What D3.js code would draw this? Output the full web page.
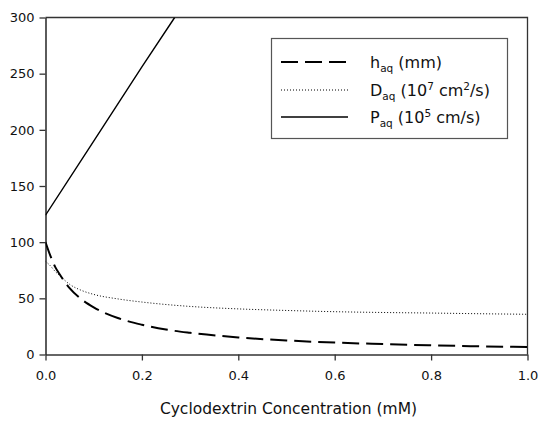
<!DOCTYPE html>
<html>
<head>
<meta charset="utf-8">
<script src="https://cdn.jsdelivr.net/npm/d3@7"></script>
<style>
  html, body { margin: 0; padding: 0; background: #fff; }
  svg { display: block; font-family: "DejaVu Sans", Verdana, sans-serif; }
</style>
</head>
<body>
<svg id="chart" width="541" height="422"></svg>
<script>
// Cyclodextrin concentration (mM)
const concH = [0, 0.01, 0.02, 0.03, 0.05, 0.075, 0.1, 0.15, 0.2, 0.25, 0.3, 0.4, 0.5, 0.6, 0.7, 0.8, 0.9, 1.0];
// Aqueous boundary layer thickness h_aq (mm)
const hAq = [100, 88, 78, 71, 59, 49, 42, 32.5, 26.5, 22.2, 19.3, 15.2, 12.5, 10.6, 9.3, 8.2, 7.3, 6.6];
// Aqueous diffusivity D_aq (10^7 cm^2/s)
const dAq = [83, 79, 74, 70, 62.5, 57, 53.5, 49.5, 46.7, 44.5, 42.8, 40.6, 39.2, 38.1, 37.4, 36.9, 36.3, 35.8];
// Aqueous permeability P_aq (10^5 cm/s)
const concP = [0, 0.1, 0.2, 0.268];
const pAq = [124, 190, 256, 300];

const xTicks = [0, 0.2, 0.4, 0.6, 0.8, 1.0];
const yTicks = [0, 50, 100, 150, 200, 250, 300];
const xTitle = "Cyclodextrin Concentration (mM)";

const svg = d3.select("#chart");
const m = { left: 45.5, right: 527.5, top: 17.5, bottom: 354.5 };

const x = d3.scaleLinear().domain([0, 1]).range([m.left, m.right]);
const y = d3.scaleLinear().domain([0, 300]).range([m.bottom, m.top]);

const axisColor = "#333";

// frame (top and right borders)
svg.append("path")
  .attr("d", `M${m.left},${m.top}H${m.right}V${m.bottom}`)
  .attr("fill", "none").attr("stroke", axisColor).attr("stroke-width", 1.3);

const xAxis = svg.append("g")
  .attr("transform", `translate(0,${m.bottom})`)
  .call(d3.axisBottom(x).tickValues(xTicks).tickFormat(d3.format(".1f")).tickSize(6).tickSizeOuter(0));
const yAxis = svg.append("g")
  .attr("transform", `translate(${m.left},0)`)
  .call(d3.axisLeft(y).tickValues(yTicks).tickFormat(d3.format("d")).tickSize(6).tickSizeOuter(0));

[xAxis, yAxis].forEach(g => {
  g.select(".domain").attr("stroke", axisColor).attr("stroke-width", 1.6);
  g.selectAll(".tick line").attr("stroke", axisColor).attr("stroke-width", 1.3);
  g.selectAll(".tick text").attr("fill", "#111").style("font-size", "13px")
    .style("font-family", "'DejaVu Sans', Verdana, sans-serif");
});
xAxis.selectAll(".tick text").attr("dy", "0.71em").attr("y", 16);
yAxis.selectAll(".tick text").attr("x", -11);

// axis title
svg.append("text")
  .attr("x", (m.left + m.right) / 2 + 2).attr("y", 414)
  .attr("text-anchor", "middle")
  .style("font-size", "15.5px").attr("fill", "#111")
  .text(xTitle);

// series
const clipId = "plotClip";
svg.append("clipPath").attr("id", clipId)
  .append("rect").attr("x", m.left).attr("y", m.top).attr("width", m.right - m.left).attr("height", m.bottom - m.top);

const line = d3.line().x(d => x(d[0])).y(d => y(d[1])).curve(d3.curveMonotoneX);
const plot = svg.append("g").attr("clip-path", `url(#${clipId})`);

const styles = {
  h: { dash: "17,7", width: 2 },
  d: { dash: "1,2", width: 1 },
  p: { dash: null, width: 1.4 }
};

plot.append("path")
  .attr("d", line(d3.zip(concH, dAq)))
  .attr("fill", "none").attr("stroke", "#000")
  .attr("stroke-width", styles.d.width).attr("stroke-dasharray", styles.d.dash);
plot.append("path")
  .attr("d", line(d3.zip(concH, hAq)))
  .attr("fill", "none").attr("stroke", "#000")
  .attr("stroke-width", styles.h.width).attr("stroke-dasharray", styles.h.dash);
plot.append("path")
  .attr("d", d3.line().x(d => x(d[0])).y(d => y(d[1]))(d3.zip(concP, pAq)))
  .attr("fill", "none").attr("stroke", "#000")
  .attr("stroke-width", styles.p.width);

// legend
const lg = svg.append("g");
lg.append("rect")
  .attr("x", 271.5).attr("y", 38.5).attr("width", 236).attr("height", 100)
  .attr("fill", "#fff").attr("stroke", "#555").attr("stroke-width", 1.2);

const legendItems = [
  { key: "h", sym: "h", y: 62 },
  { key: "d", sym: "D", y: 90 },
  { key: "p", sym: "P", y: 117 }
];

const sub = "10.5px";
legendItems.forEach(it => {
  const s = styles[it.key];
  lg.append("line")
    .attr("x1", 281).attr("x2", 348).attr("y1", it.y).attr("y2", it.y)
    .attr("stroke", "#000").attr("stroke-width", s.width)
    .attr("stroke-dasharray", s.dash);
  const t = lg.append("text").attr("x", 370).attr("y", it.y + 6)
    .style("font-size", "16px").attr("fill", "#111");
  t.append("tspan").text(it.sym);
  t.append("tspan").attr("dy", 4).style("font-size", sub).text("aq");
  if (it.key === "h") {
    t.append("tspan").attr("dy", -4).text(" (mm)");
  } else if (it.key === "d") {
    t.append("tspan").attr("dy", -4).text(" (10");
    t.append("tspan").attr("dy", -6).style("font-size", sub).text("7");
    t.append("tspan").attr("dy", 6).text(" cm");
    t.append("tspan").attr("dy", -6).style("font-size", sub).text("2");
    t.append("tspan").attr("dy", 6).text("/s)");
  } else {
    t.append("tspan").attr("dy", -4).text(" (10");
    t.append("tspan").attr("dy", -6).style("font-size", sub).text("5");
    t.append("tspan").attr("dy", 6).text(" cm/s)");
  }
});
</script>
</body>
</html>
